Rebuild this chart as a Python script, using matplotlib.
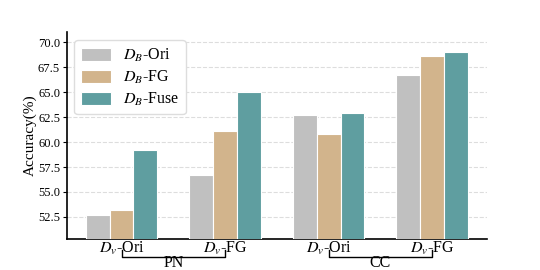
import matplotlib
matplotlib.use("Agg")
import matplotlib.pyplot as plt
import numpy as np

plt.rcParams['font.family'] = ['Liberation Serif', 'DejaVu Serif']
plt.rcParams['mathtext.fontset'] = 'stix'

groups = ['$D_v$-Ori', '$D_v$-FG', '$D_v$-Ori', '$D_v$-FG']
series = ['$D_B$-Ori', '$D_B$-FG', '$D_B$-Fuse']
ori = [52.7, 56.7, 62.7, 66.7]
fg = [53.2, 61.1, 60.8, 68.6]
fuse = [59.2, 65.0, 62.9, 69.0]
colors = ['#C0C0C0', '#D2B48C', '#5F9EA0']
brackets = [('PN', 0, 1), ('CC', 2, 3)]

fig = plt.figure(figsize=(5.4, 2.7), dpi=100)
ax = fig.add_axes([0.124, 0.115, 0.778, 0.766])

x = np.arange(len(groups))
w = 0.23
for i, (vals, lab, c) in enumerate(zip([ori, fg, fuse], series, colors)):
    ax.bar(x + (i - 1) * w, vals, w, color=c, label=lab, edgecolor='white', linewidth=0.8, zorder=3)

ax.set_ylim(50.3, 71.0)
ax.set_xlim(-0.527, 3.53)
ax.set_yticks([52.5, 55.0, 57.5, 60.0, 62.5, 65.0, 67.5, 70.0])
ax.set_yticklabels(['52.5', '55.0', '57.5', '60.0', '62.5', '65.0', '67.5', '70.0'], fontsize=9)
ax.set_xticks(x)
ax.set_xticklabels(groups, fontsize=11.5)
ax.tick_params(axis='x', length=0, pad=1)
ax.tick_params(axis='y', length=3, width=0.8, pad=2)
ax.set_ylabel('Accuracy(%)', fontsize=11, labelpad=1)
ax.grid(axis='y', linestyle='--', color='#dddddd', linewidth=0.8, zorder=0)
for s in ['top', 'right']:
    ax.spines[s].set_visible(False)
ax.spines['left'].set_linewidth(1.2)
ax.spines['bottom'].set_linewidth(1.2)

leg = ax.legend(loc='upper left', fontsize=11.5, frameon=True, handlelength=1.9,
                handleheight=0.9, labelspacing=0.3, borderpad=0.4, handletextpad=0.75,
                bbox_to_anchor=(0.01, 0.975), framealpha=1, borderaxespad=0.2)
leg.get_frame().set_edgecolor('#dddddd')

trans = ax.get_xaxis_transform()
for name, a, b in brackets:
    yb = -0.085
    ax.plot([a, a, b, b], [yb + 0.03, yb, yb, yb + 0.03], color='black', lw=1.0,
            transform=trans, clip_on=False)
    ax.text((a + b) / 2, -0.138, name, ha='center', va='baseline', fontsize=11.5,
            transform=trans)

fig.savefig('out.png', dpi=100)
